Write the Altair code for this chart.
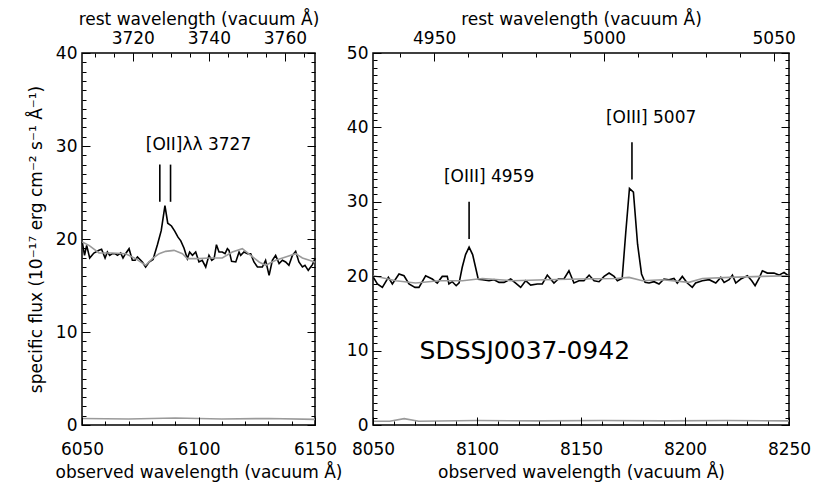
import altair as alt
import pandas as pd

ONE_PLUS_Z = 1.6322
FONT = "DejaVu Sans"
FS = 17
GRAY = "#9a9a9a"

# ---------------- left panel: [OII] 3727 region ----------------
oii_wave = [6050.1, 6051.1, 6052.0, 6053.3, 6055.1, 6057.3, 6058.4, 6059.9, 6060.9, 6061.9,
            6063.0, 6064.2, 6065.2, 6066.6, 6067.6, 6068.7, 6070.2, 6071.6, 6072.8, 6073.8,
            6075.2, 6075.9, 6077.3, 6078.8, 6080.5, 6082.4, 6084.0, 6085.6, 6086.8, 6088.4,
            6089.8, 6091.2, 6092.4, 6093.8, 6095.2, 6096.2, 6097.4, 6098.8, 6100.2, 6101.6,
            6103.1, 6104.5, 6105.7, 6106.7, 6107.7, 6108.8, 6110.2, 6111.4, 6112.4, 6113.1,
            6114.2, 6116.0, 6117.4, 6118.1, 6119.5, 6121.0, 6122.4, 6123.8, 6125.3, 6127.4,
            6128.8, 6130.3, 6131.7, 6133.1, 6134.6, 6136.0, 6137.4, 6138.8, 6140.3, 6141.7,
            6143.1, 6144.6, 6145.7, 6147.1, 6148.9, 6150.0]
oii_flux = [19.68, 18.24, 19.32, 17.96, 18.49, 18.78, 18.89, 17.96, 18.60, 18.24,
            18.42, 18.42, 18.24, 18.49, 17.96, 18.42, 18.96, 17.71, 17.71, 18.06,
            17.71, 17.53, 16.99, 17.53, 17.81, 19.40, 20.90, 23.60, 21.70, 21.40,
            20.85, 20.20, 19.80, 19.00, 17.89, 18.60, 18.24, 18.60, 17.53, 17.71,
            16.99, 18.24, 17.71, 17.89, 19.39, 18.60, 18.60, 18.42, 18.96, 18.78,
            17.60, 17.53, 18.60, 18.24, 18.60, 18.42, 18.42, 17.53, 16.99, 16.99,
            17.71, 16.09, 17.71, 18.24, 17.35, 17.71, 17.53, 17.17, 18.24, 18.67,
            17.53, 16.99, 17.17, 16.63, 17.24, 17.89]
oii_cont_wave = [6050.1, 6053.0, 6057.3, 6063.0, 6068.7, 6073.0, 6077.3, 6080.2, 6083.1, 6085.9,
                 6089.5, 6093.1, 6095.2, 6100.2, 6104.5, 6110.2, 6114.5, 6118.8, 6122.4, 6126.0,
                 6128.8, 6133.1, 6137.4, 6141.7, 6144.6, 6148.9, 6150.0]
oii_cont_flux = [19.68, 19.32, 18.50, 18.49, 18.42, 17.89, 17.17, 17.89, 18.42, 18.67,
                 18.78, 18.42, 17.89, 17.89, 17.96, 17.96, 18.60, 18.96, 18.24, 17.53,
                 17.17, 17.71, 18.06, 18.42, 17.96, 17.60, 17.50]
oii_err_wave = [6050, 6070, 6090, 6110, 6130, 6150]
oii_err_flux = [0.70, 0.65, 0.75, 0.65, 0.70, 0.60]
oii_mark_wave = [6083.4, 6088.0]
oii_mark_low = [24.0, 24.0]
oii_mark_high = [28.0, 28.0]
oii_label_text = ["[OII]λλ 3727"]
oii_label_wave = [6100.0]
oii_label_flux = [30.1]
oii_x_major = [6050, 6100, 6150]
oii_x_minor = [6060, 6070, 6080, 6090, 6100, 6110, 6120, 6130, 6140]
oii_rest_major = [3720, 3740, 3760]
oii_rest_minor = [3710, 3715, 3720, 3725, 3730, 3735, 3740, 3745, 3750, 3755, 3760, 3765]
oii_y_major = [0, 10, 20, 30, 40]
oii_y_minor = list(range(0, 41))

# ---------------- right panel: [OIII] 4959/5007 region ----------------
oiii_wave = [8050.2, 8052.1, 8054.5, 8057.4, 8059.3, 8062.5, 8064.9, 8067.3, 8070.2, 8072.1,
             8075.3, 8078.5, 8080.9, 8083.3, 8085.7, 8086.5, 8088.1, 8090.0, 8091.4, 8092.9,
             8094.5, 8096.2, 8097.9, 8099.3, 8100.6, 8102.6, 8105.8, 8108.2, 8110.6, 8113.0,
             8116.2, 8118.6, 8121.0, 8123.4, 8125.8, 8129.0, 8131.4, 8133.8, 8137.0, 8139.1,
             8141.8, 8144.2, 8146.6, 8149.0, 8151.4, 8153.9, 8156.3, 8158.7, 8161.1, 8163.5,
             8165.9, 8167.5, 8169.8, 8171.5, 8173.3, 8175.2, 8177.2, 8179.1, 8180.8, 8182.7,
             8185.1, 8187.5, 8189.9, 8192.3, 8194.7, 8196.3, 8198.7, 8201.1, 8203.5, 8205.1,
             8208.3, 8211.6, 8214.8, 8217.2, 8218.8, 8221.2, 8222.8, 8224.4, 8226.8, 8230.0,
             8232.1, 8233.7, 8235.6, 8237.2, 8239.6, 8242.8, 8245.2, 8247.6, 8249.7]
oiii_flux = [19.84, 18.95, 18.50, 19.84, 18.95, 20.29, 20.06, 18.95, 18.50, 18.50,
             20.06, 19.62, 19.08, 19.97, 19.97, 18.95, 19.26, 18.72, 19.10, 21.20,
             22.90, 23.90, 22.90, 21.20, 19.60, 19.53, 19.39, 19.53, 19.17, 19.17,
             19.62, 19.08, 18.50, 19.39, 18.81, 18.95, 18.95, 20.15, 19.08, 19.62,
             19.62, 20.73, 19.08, 19.39, 19.39, 20.15, 19.39, 19.26, 19.97, 20.42,
             19.97, 19.39, 19.70, 25.80, 31.80, 31.30, 24.30, 20.30, 19.17, 19.08,
             19.26, 18.95, 19.62, 19.53, 19.70, 19.08, 19.97, 19.08, 18.50, 19.08,
             19.39, 19.53, 19.08, 19.84, 19.17, 19.53, 20.15, 19.08, 19.62, 20.06,
             19.39, 18.72, 19.70, 20.73, 20.42, 20.42, 20.15, 20.51, 20.06]
oiii_cont_wave = [8050.2, 8060.9, 8070.5, 8081.7, 8093.0, 8102.6, 8117.0, 8133.0, 8149.0,
                  8166.7, 8173.1, 8179.5, 8189.1, 8201.9, 8208.3, 8221.2, 8237.2, 8249.7]
oiii_cont_flux = [20.06, 19.39, 19.08, 19.39, 19.39, 19.70, 19.39, 19.53, 19.62,
                  19.70, 19.84, 19.39, 19.53, 19.17, 19.70, 19.84, 19.97, 20.06]
oiii_err_wave = [8050, 8058, 8065, 8072, 8100, 8130, 8160, 8190, 8220, 8250]
oiii_err_flux = [0.50, 0.50, 0.85, 0.50, 0.60, 0.55, 0.60, 0.55, 0.60, 0.55]
oiii_mark_wave = [8096.2, 8174.5]
oiii_mark_low = [25.0, 33.0]
oiii_mark_high = [30.0, 38.0]
oiii_label_text = ["[OIII] 4959", "[OIII] 5007"]
oiii_label_wave = [8105.8, 8183.7]
oiii_label_flux = [33.3, 41.3]
name_text = ["SDSSJ0037-0942"]
name_wave = [8123.0]
name_flux = [9.9]
oiii_x_major = [8050, 8100, 8150, 8200, 8250]
oiii_x_minor = [8060, 8070, 8080, 8090, 8100, 8110, 8120, 8130, 8140, 8150,
                8160, 8170, 8180, 8190, 8200, 8210, 8220, 8230, 8240]
oiii_rest_major = [4950, 5000, 5050]
oiii_rest_minor = [4940, 4950, 4960, 4970, 4980, 4990, 5000, 5010, 5020, 5030, 5040, 5050]
oiii_y_major = [0, 10, 20, 30, 40, 50]
oiii_y_minor = list(range(0, 51))

MAJ = 8
MIN = 4


def label_axis(orient, values, title=None, pad=6, expr=None, title_pad=4):
    kw = dict(orient=orient, values=values, ticks=False, domain=False, grid=False,
              labelFont=FONT, labelFontSize=FS, labelColor="black", labelPadding=pad,
              labelFlush=False, format="d",
              titleFont=FONT, titleFontSize=FS, titleFontWeight="normal",
              titleColor="black", titlePadding=title_pad, title=title)
    if expr is not None:
        kw["labelExpr"] = expr
    return alt.Axis(**kw)


def tick_axis(orient, values, size):
    # inward ticks: shift the axis into the plot by its own tick length
    return alt.Axis(orient=orient, values=values, labels=False, domain=False, grid=False,
                    ticks=True, tickSize=size, offset=-size, tickColor="black",
                    tickWidth=1, title=None, zindex=1)


def panel(spec_w, spec_f, cont_w, cont_f, err_w, err_f, mk_w, mk_lo, mk_hi,
          lab_t, lab_w, lab_f, xdom, ydom, x_major, x_minor, rest_major, rest_minor,
          y_major, y_minor, ytitle, width, height, name=None):
    xs = alt.Scale(domain=xdom, nice=False, zero=False)
    ys = alt.Scale(domain=ydom, nice=False, zero=False)
    spec = pd.DataFrame({"w": spec_w, "f": spec_f})
    cont = pd.DataFrame({"w": cont_w, "f": cont_f})
    err = pd.DataFrame({"w": err_w, "f": err_f})
    mk = pd.DataFrame({"w": mk_w, "lo": mk_lo, "hi": mk_hi})
    lab = pd.DataFrame({"t": lab_t, "w": lab_w, "f": lab_f})
    rest_major_obs = [r * ONE_PLUS_Z for r in rest_major]
    rest_minor_obs = [r * ONE_PLUS_Z for r in rest_minor]
    expr = f"format(datum.value / {ONE_PLUS_Z}, '.0f')"

    l1 = alt.Chart(spec).mark_line(color="black", strokeWidth=1.6).encode(
        x=alt.X("w:Q", scale=xs, axis=label_axis("bottom", x_major,
                "observed wavelength (vacuum Å)", pad=16, title_pad=7)),
        y=alt.Y("f:Q", scale=ys, axis=label_axis("left", y_major, ytitle, pad=5, title_pad=10)),
    )
    l2 = alt.Chart(cont).mark_line(color=GRAY, strokeWidth=1.6).encode(
        x=alt.X("w:Q", scale=xs, axis=tick_axis("bottom", x_major, MAJ)),
        y=alt.Y("f:Q", scale=ys, axis=tick_axis("left", y_major, MAJ)),
    )
    l3 = alt.Chart(err).mark_line(color=GRAY, strokeWidth=1.6).encode(
        x=alt.X("w:Q", scale=xs, axis=tick_axis("bottom", x_minor, MIN)),
        y=alt.Y("f:Q", scale=ys, axis=tick_axis("left", y_minor, MIN)),
    )
    l4 = alt.Chart(mk).mark_rule(color="black", strokeWidth=1.6).encode(
        x=alt.X("w:Q", scale=xs, axis=label_axis("top", rest_major_obs,
                "rest wavelength (vacuum Å)", pad=6, expr=expr, title_pad=1)),
        y=alt.Y("lo:Q", scale=ys, axis=tick_axis("right", y_major, MAJ)),
        y2="hi:Q",
    )
    l5 = alt.Chart(lab).mark_text(font=FONT, fontSize=FS, color="black",
                                   align="center", baseline="middle").encode(
        x=alt.X("w:Q", scale=xs, axis=tick_axis("top", rest_major_obs, MAJ)),
        y=alt.Y("f:Q", scale=ys, axis=tick_axis("right", y_minor, MIN)),
        text="t:N",
    )
    l6 = alt.Chart(err).mark_line(opacity=0).encode(
        x=alt.X("w:Q", scale=xs, axis=tick_axis("top", rest_minor_obs, MIN)),
        y=alt.Y("f:Q", scale=ys, axis=None),
    )
    layers = [l1, l2, l3, l4, l5, l6]
    if name is not None:
        nd = pd.DataFrame({"t": name[0], "w": name[1], "f": name[2]})
        layers.append(alt.Chart(nd).mark_text(font=FONT, fontSize=25, color="black",
                                              align="center", baseline="middle").encode(
            x=alt.X("w:Q", scale=xs, axis=None),
            y=alt.Y("f:Q", scale=ys, axis=None),
            text="t:N",
        ))
    return alt.layer(*layers).resolve_axis(x="independent", y="independent").properties(
        width=width, height=height)


left = panel(oii_wave, oii_flux, oii_cont_wave, oii_cont_flux, oii_err_wave, oii_err_flux,
             oii_mark_wave, oii_mark_low, oii_mark_high,
             oii_label_text, oii_label_wave, oii_label_flux,
             [6050, 6150], [0, 40], oii_x_major, oii_x_minor, oii_rest_major, oii_rest_minor,
             oii_y_major, oii_y_minor,
             "specific flux (10⁻¹⁷ erg cm⁻² s⁻¹ Å⁻¹)", 233, 372)

right = panel(oiii_wave, oiii_flux, oiii_cont_wave, oiii_cont_flux, oiii_err_wave, oiii_err_flux,
              oiii_mark_wave, oiii_mark_low, oiii_mark_high,
              oiii_label_text, oiii_label_wave, oiii_label_flux,
              [8050, 8250], [0, 50], oiii_x_major, oiii_x_minor, oiii_rest_major, oiii_rest_minor,
              oiii_y_major, oiii_y_minor, None, 416, 372,
              name=(name_text, name_wave, name_flux))

chart = alt.hconcat(left, right, spacing=58, bounds="flush").properties(
    padding={"left": 18, "top": 1, "right": 5, "bottom": 5},
    background="white",
).configure_view(stroke="black", strokeWidth=1.5)

chart.save("out.html", embed_options={"renderer": "svg", "actions": False})
